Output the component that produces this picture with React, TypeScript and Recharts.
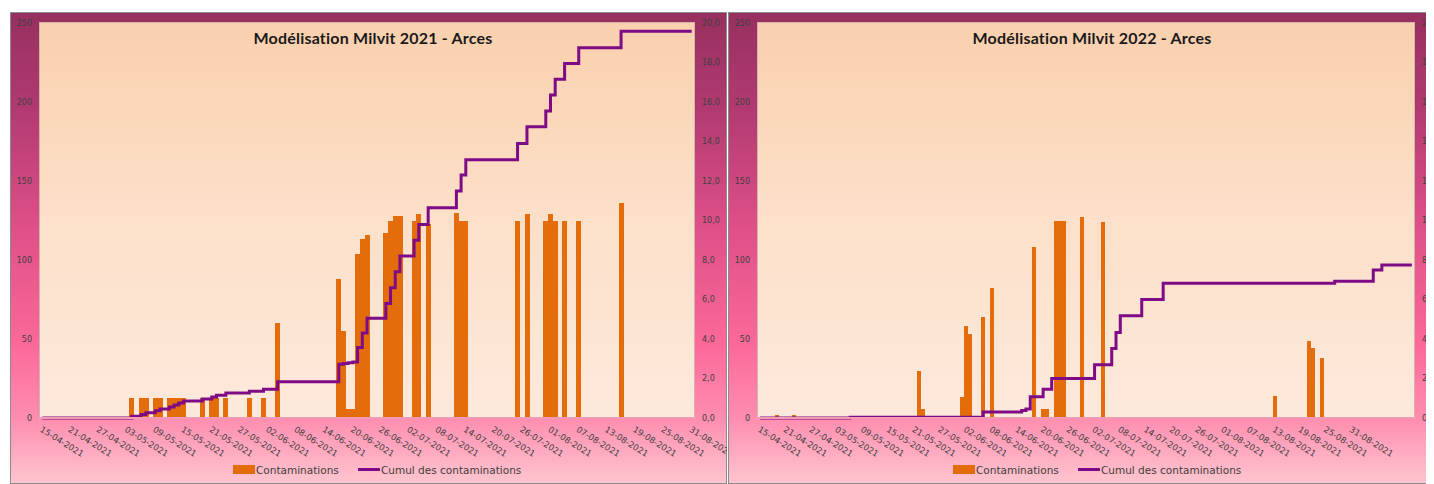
import React from 'react';
import { ComposedChart, Bar, Line, XAxis, YAxis, Legend } from 'recharts';

// ---- tick labels (every 6 days from 15-04) ----
const tickLabels = [
  '15-04-2021', '21-04-2021', '27-04-2021', '03-05-2021', '09-05-2021', '15-05-2021',
  '21-05-2021', '27-05-2021', '02-06-2021', '08-06-2021', '14-06-2021', '20-06-2021',
  '26-06-2021', '02-07-2021', '08-07-2021', '14-07-2021', '20-07-2021', '26-07-2021',
  '01-08-2021', '07-08-2021', '13-08-2021', '19-08-2021', '25-08-2021', '31-08-2021',
];
const TICK_STEP = 6;

const leftTicks = [0, 50, 100, 150, 200, 250];
const rightTicks = [0, 2, 4, 6, 8, 10, 12, 14, 16, 18, 20];

// ---- 2021 : day index counted from 15-04 ----
const days2021 = 139;
const contam2021Days = [19, 21, 22, 24, 25, 27, 28, 29, 30, 34, 36, 37, 39, 44, 47, 50, 63, 64, 65, 66, 67, 68, 69, 73, 74, 75, 76, 79, 80, 82, 88, 89, 90, 101, 103, 107, 108, 109, 111, 114, 123];
const contam2021Values = [12.5, 12.5, 12.5, 12.5, 12.5, 12.5, 12.5, 12.5, 12.5, 12.5, 12.5, 12.5, 12.5, 12.5, 12.5, 60, 88, 55, 6, 6, 104, 113, 116, 117, 125, 128, 128, 125, 129, 123, 130, 125, 125, 125, 129, 125, 129, 125, 125, 125, 136];
const cumul2021Days = [0, 19, 21, 22, 24, 25, 27, 28, 29, 30, 34, 36, 37, 39, 44, 47, 50, 63, 64, 65, 66, 67, 68, 69, 73, 74, 75, 76, 79, 80, 82, 88, 89, 90, 101, 103, 107, 108, 109, 111, 114, 123, 138];
const cumul2021Values = [0, 0.09, 0.18, 0.27, 0.37, 0.46, 0.56, 0.66, 0.76, 0.86, 0.96, 1.06, 1.15, 1.26, 1.36, 1.45, 1.83, 2.72, 2.76, 2.8, 2.84, 3.57, 4.3, 5.05, 5.8, 6.6, 7.4, 8.2, 9.0, 9.8, 10.65, 11.5, 12.3, 13.08, 13.9, 14.75, 15.55, 16.35, 17.15, 17.95, 18.75, 19.58, 19.58];

// ---- 2022 ----
const days2022 = 153;
const contam2022Days = [4, 8, 37, 38, 47, 48, 49, 52, 54, 64, 66, 67, 69, 70, 71, 75, 80, 120, 128, 129, 131];
const contam2022Values = [2, 2, 30, 6, 13, 58, 53, 64, 82, 108, 6, 6, 125, 125, 125, 127, 124, 14, 49, 44, 38];
const cumul2022Days = [0, 21, 52, 61, 62, 63, 66, 68, 78, 82, 83, 84, 89, 94, 134, 143, 145, 152];
const cumul2022Values = [0, 0.04, 0.3, 0.38, 0.45, 1.07, 1.45, 2.0, 2.7, 3.52, 4.33, 5.18, 6.0, 6.82, 6.93, 7.49, 7.75, 7.75];

type Row = { day: number; contam: number | null; cumul: number | null };

function buildRows(count: number, bd: number[], bv: number[], ld: number[], lv: number[]): Row[] {
  const rows: Row[] = [];
  for (let d = 0; d < count; d++) rows.push({ day: d, contam: null, cumul: null });
  bd.forEach((d, i) => { rows[d].contam = bv[i]; });
  ld.forEach((d, i) => { rows[d].cumul = lv[i]; });
  return rows;
}

const rows2021 = buildRows(days2021, contam2021Days, contam2021Values, cumul2021Days, cumul2021Values);
const rows2022 = buildRows(days2022, contam2022Days, contam2022Values, cumul2022Days, cumul2022Values);

const CHART_W = 717;
const CHART_H = 472;
const PLOT_TOP = 11;
const PLOT_LEFT = 30;
const PLOT_BOTTOM = 406;

const BAR_COLOR = '#e46c0a';
const LINE_COLOR = '#7f0a86';
const TEXT_COLOR = '#404040';

const XTick = (props: any) => {
  const { x, y, payload } = props;
  const day = Number(payload.value);
  const idx = day / TICK_STEP;
  if (day % TICK_STEP !== 0 || idx >= tickLabels.length) return <g />;
  const ax = x - 3;
  const ay = y + 5;
  return (
    <text x={ax} y={ay} transform={`rotate(32, ${ax}, ${ay})`} textAnchor="start"
      fontFamily="DejaVu Sans" fontSize={8.5} fill={TEXT_COLOR}>
      {tickLabels[idx]}
    </text>
  );
};

const BarShape = (p: any) => {
  if (!p.height || p.height <= 0) return <g />;
  return <rect x={p.x} y={p.y} width={p.width} height={p.height} fill={BAR_COLOR} shapeRendering="crispEdges" />;
};

const LegendBox = ({ shift }: { shift: number }) => (
  <div style={{ position: 'relative', width: CHART_W, height: 16, fontFamily: 'DejaVu Sans', fontSize: 10.5, color: TEXT_COLOR }}>
    <span style={{ position: 'absolute', left: 223 + shift, top: 3, width: 22, height: 9, background: BAR_COLOR }} />
    <span style={{ position: 'absolute', left: 246 + shift, top: 0, lineHeight: '16px', whiteSpace: 'nowrap' }}>Contaminations</span>
    <span style={{ position: 'absolute', left: 348 + shift, top: 6, width: 22, height: 3, background: LINE_COLOR }} />
    <span style={{ position: 'absolute', left: 371 + shift, top: 0, lineHeight: '16px', whiteSpace: 'nowrap' }}>Cumul des contaminations</span>
  </div>
);

type PanelProps = {
  left: number;
  title: string;
  rows: Row[];
  rightWidth: number;
  rightFormat: (v: number) => string;
  legendShift: number;
};

const Panel = ({ left, title, rows, rightWidth, rightFormat, legendShift }: PanelProps) => {
  const plotW = CHART_W - PLOT_LEFT - rightWidth;
  return (
    <div style={{
      position: 'absolute', left, top: 4, width: CHART_W, height: CHART_H,
      background: 'linear-gradient(to bottom, #97305f 0%, #b03a70 20%, #de4f88 45%, #fb6899 70%, #ff8db0 86%, #ffc6cf 100%)',
      boxShadow: 'inset 0 0 0 1px #8c8c8c',
    }}>
      <div style={{
        position: 'absolute', left: PLOT_LEFT, top: PLOT_TOP, width: plotW, height: PLOT_BOTTOM - PLOT_TOP,
        background: 'linear-gradient(to bottom, #fad0ae 0%, #fce0c9 50%, #fde9dc 100%)',
        boxShadow: '0 0 0 1px #d3b3aa',
      }} />
      <div style={{
        position: 'absolute', left: PLOT_LEFT + plotW / 2 + 6 - 200, width: 400, top: 16, textAlign: 'center',
        fontFamily: 'Lato', fontWeight: 700, fontSize: 16, letterSpacing: 0.2, lineHeight: '19px', color: '#1a1a1a',
      }}>{title}</div>
      <div style={{ position: 'absolute', left: 0, top: 0 }}>
        <ComposedChart width={CHART_W} height={CHART_H} data={rows}
          margin={{ top: PLOT_TOP, right: 0, bottom: 6, left: 0 }} barCategoryGap={0} barGap={0}>
          <XAxis dataKey="day" type="category" interval={5} height={44} tickLine={false}
            axisLine={{ stroke: '#f09ab6', strokeWidth: 2 }} tick={<XTick />} />
          <YAxis yAxisId="left" orientation="left" width={PLOT_LEFT} domain={[0, 250]} ticks={leftTicks}
            axisLine={false} tickLine={false} interval={0}
            tick={{ fontFamily: 'DejaVu Sans', fontSize: 8, fill: TEXT_COLOR }} />
          <YAxis yAxisId="right" orientation="right" width={rightWidth} domain={[0, 20]} ticks={rightTicks}
            axisLine={false} tickLine={false} interval={0} tickFormatter={rightFormat}
            tick={{ fontFamily: 'DejaVu Sans', fontSize: 8, fill: TEXT_COLOR }} />
          <Bar yAxisId="left" dataKey="contam" name="Contaminations" fill={BAR_COLOR}
            shape={<BarShape />} isAnimationActive={false} />
          <Line yAxisId="right" type="stepAfter" dataKey="cumul" name="Cumul des contaminations"
            stroke={LINE_COLOR} strokeWidth={3} dot={false} activeDot={false} connectNulls isAnimationActive={false} />
          <Legend verticalAlign="bottom" align="left" content={() => <LegendBox shift={legendShift} />}
            wrapperStyle={{ left: 0, width: CHART_W }} />
        </ComposedChart>
      </div>
    </div>
  );
};

export default function App() {
  return (
    <div style={{ position: 'relative', width: 1426, height: 476, overflow: 'hidden' }}>
      <Panel left={2} title="Modélisation Milvit 2021 - Arces" rows={rows2021} rightWidth={33}
        rightFormat={(v) => v.toFixed(1).replace('.', ',')} legendShift={0} />
      <Panel left={720} title="Modélisation Milvit 2022 - Arces" rows={rows2022} rightWidth={31}
        rightFormat={(v) => String(v)} legendShift={2} />
    </div>
  );
}
